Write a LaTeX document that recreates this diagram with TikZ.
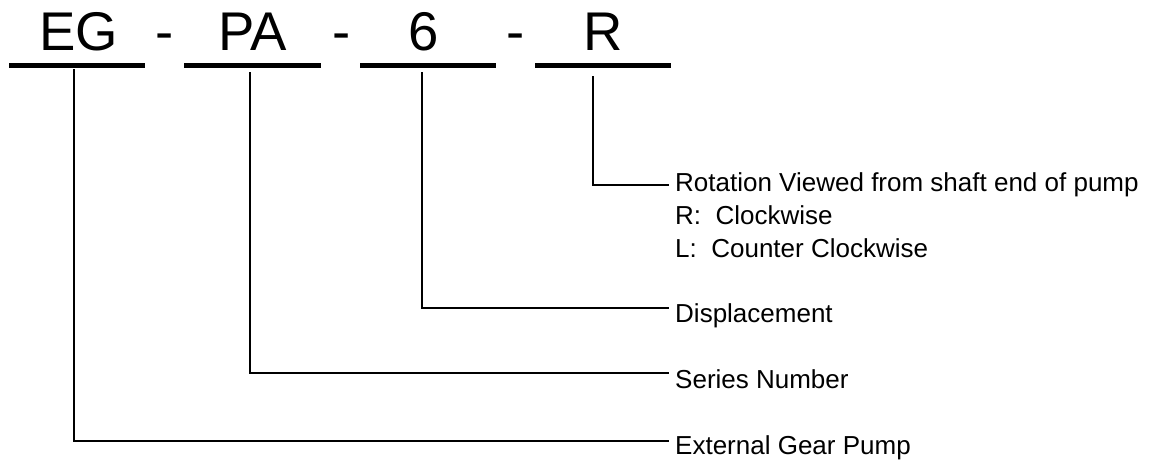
\documentclass[tikz,border=0pt]{standalone}
\usepackage{fontspec}
\setmainfont{Liberation Sans}
\begin{document}
\begin{tikzpicture}[x=1pt,y=-1pt,
  big/.style={inner sep=0pt,anchor=base,font=\fontsize{54.5}{60}\selectfont},
  lbl/.style={inner sep=0pt,anchor=base west,font=\fontsize{26}{30}\selectfont},
  bar/.style={line width=5pt},
  conn/.style={line width=1.8pt}]
\useasboundingbox (0,0) rectangle (1153,461);
% code letters
\node[big] (eg) at (78.5,50) {EG};
\node[big] (d1) at (165,50) {-};
\node[big] (pa) at (252.5,50) {PA};
\node[big] (d2) at (341.5,50) {-};
\node[big] (six) at (424,50) {6};
\node[big] (d3) at (516,50) {-};
\node[big] (rr) at (603,50) {R};
% bars
\draw[bar] (9,65.5) -- (145,65.5);
\draw[bar] (184,65.5) -- (320.5,65.5);
\draw[bar] (360,65.5) -- (495.5,65.5);
\draw[bar] (535,65.5) -- (670.5,65.5);
% labels
\node[lbl] (rot) at (675,191) {Rotation Viewed from shaft end of pump};
\node[lbl] (rcw) at (675,224) {R:\ \ Clockwise};
\node[lbl] (lccw) at (675,257) {L:\ \ Counter Clockwise};
\node[lbl] (disp) at (675,322) {Displacement};
\node[lbl] (ser) at (675,388) {Series Number};
\node[lbl] (ext) at (675,454) {External Gear Pump};
% connector ends
\coordinate (s1) at (73.7,69);
\coordinate (s2) at (250,72);
\coordinate (s3) at (422,72);
\coordinate (s4) at (593,76);
\coordinate (e1) at (669,441);
\coordinate (e2) at (669,373);
\coordinate (e3) at (669,308);
\coordinate (e4) at (669,185);
\draw[conn] (s1) |- (e1);
\draw[conn] (s2) |- (e2);
\draw[conn] (s3) |- (e3);
\draw[conn] (s4) |- (e4);
\end{tikzpicture}
\end{document}
